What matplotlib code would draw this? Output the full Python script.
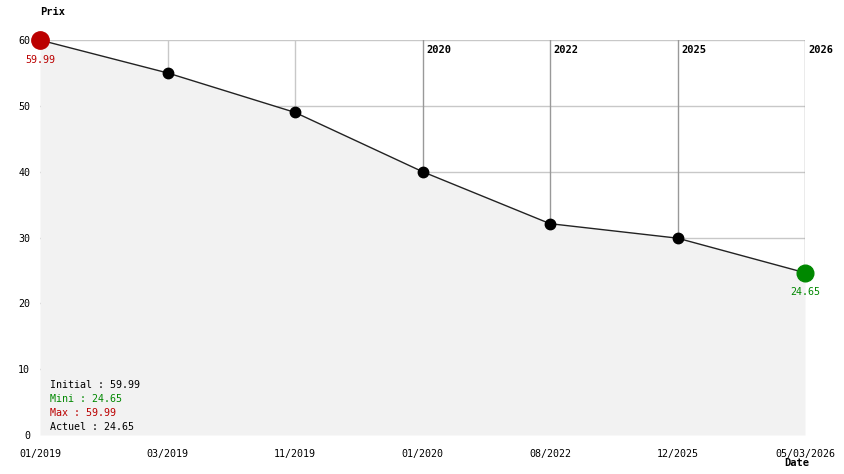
import matplotlib
matplotlib.use("Agg")
import matplotlib.pyplot as plt
import numpy as np

dates = ["01/2019", "03/2019", "11/2019", "01/2020", "08/2022", "12/2025", "05/03/2026"]
prices = [59.99, 55.0, 49.0, 40.0, 32.1, 29.9, 24.65]
year_marks = {3: "2020", 4: "2022", 5: "2025", 6: "2026"}
y_ticks = [0, 10, 20, 30, 40, 50, 60]

RED = "#bb0000"
GREEN = "#008800"
MONO = "DejaVu Sans Mono"

fig = plt.figure(figsize=(8.44, 4.74), dpi=100)
ax = fig.add_axes([40 / 844, 39 / 474, 765 / 844, 395 / 474])
x = np.arange(len(prices))

# grid lines, hidden below the fill
for v in y_ticks[1:]:
    ax.axhline(v, color="#c8c8c8", lw=1, zorder=0)
for i in x[1:]:
    c = "#999999" if i in year_marks else "#c8c8c8"
    ax.axvline(i, color=c, lw=1, zorder=0)
    if i in year_marks:
        ax.text(i + 0.03, 58.5, year_marks[i], fontsize=7.5, fontweight="bold",
                family=MONO, va="center", ha="left")

ax.fill_between(x, prices, 0, color="#f2f2f2", zorder=1, lw=0)
ax.plot(x, prices, color="#222222", lw=1, zorder=2)
ax.plot(x[1:-1], prices[1:-1], "o", color="black", ms=7.5, zorder=3)
ax.plot(x[0], prices[0], "o", color=RED, ms=12.5, zorder=3, clip_on=False)
ax.plot(x[-1], prices[-1], "o", color=GREEN, ms=12, zorder=3, clip_on=False)

ax.annotate(f"{prices[0]:.2f}", (x[0], prices[0]), xytext=(0, -14),
            textcoords="offset points", ha="center", va="center",
            color=RED, fontsize=7.2, family=MONO)
ax.annotate(f"{prices[-1]:.2f}", (x[-1], prices[-1]), xytext=(0, -14),
            textcoords="offset points", ha="center", va="center",
            color=GREEN, fontsize=7.2, family=MONO)

stats = [(f"Initial : {prices[0]:.2f}", "black"),
         (f"Mini : {min(prices):.2f}", GREEN),
         (f"Max : {max(prices):.2f}", RED),
         (f"Actuel : {prices[-1]:.2f}", "black")]
for k, (s, c) in enumerate(stats):
    fig.text(50 / 844, 1 - (385 + 14 * k) / 474, s, color=c, fontsize=7.2,
             family=MONO, va="center", ha="left")

ax.set_xlim(0, len(prices) - 1)
ax.set_ylim(0, 60)
ax.set_xticks(x)
ax.set_xticklabels(dates, family=MONO, fontsize=7.2)
ax.set_yticks(y_ticks)
ax.set_yticklabels([str(v) for v in y_ticks], family=MONO, fontsize=7.2)
ax.tick_params(axis="x", length=0, pad=10)
ax.tick_params(axis="y", length=0, pad=7)
for s in ax.spines.values():
    s.set_visible(False)

fig.text(53 / 844, 1 - 12 / 474, "Prix", fontsize=7.5, fontweight="bold",
         family=MONO, ha="center", va="center")
fig.text(797 / 844, 1 - 463 / 474, "Date", fontsize=7.5, fontweight="bold",
         family=MONO, ha="center", va="center")

fig.savefig("out.png", dpi=100)
